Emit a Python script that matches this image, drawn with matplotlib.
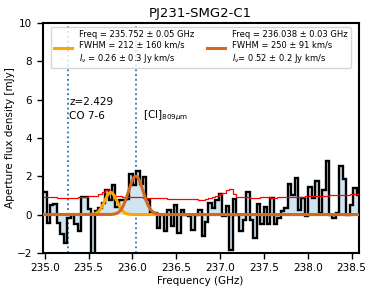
import numpy as np
import matplotlib
matplotlib.use("Agg")
import matplotlib.pyplot as plt

# ---- data ----
freq_start = 234.98      # GHz, left edge of first channel
chan_width = 0.0393      # GHz per channel

flux = [1.15, -0.46, 0.48, 0.55, -0.46, -1.0, -1.5, -0.2, 0.0, -0.5,
        -0.85, 0.9, 0.9, 0.3, -2.6, 0.2, 0.35, 0.6, 1.3, 0.75,
        1.55, 0.4, 0.75, 0.75, 0.8, 2.1, 1.55, 2.25, 1.6, 1.95,
        0.75, 0.1, 0.1, -0.7, 0.0, -0.85, 0.25, -0.6, 0.5, -0.95,
        0.25, 0.0, -0.1, -0.8, 0.0, 0.26, -1.1, -0.4, 0.6, 0.35,
        0.78, 1.08, -0.1, 0.45, -1.85, 0.8, 0.0, -0.85, -0.3, 1.2,
        -0.3, -1.2, 0.55, -0.5, 0.4, -0.5, 0.85, -0.5, -0.2, 0.2,
        0.35, 1.6, 1.0, 1.9, 0.26, 0.87, -0.1, 1.43, 0.87, 1.74,
        0.1, 1.3, 2.78, 0.0, -0.17, 0.1, 2.52, 1.83, 0.0, 0.5,
        1.39, 1.04]

rms = [0.92, 0.9, 0.9, 0.89, 0.88, 0.88, 0.87, 0.87, 0.87, 0.88,
       0.9, 0.92, 0.93, 0.95, 0.95, 0.97, 1.05, 1.2, 1.3, 1.25,
       1.0, 0.95, 0.95, 0.93, 0.92, 0.92, 0.9, 0.9, 0.9, 0.88,
       0.88, 0.86, 0.85, 0.85, 0.84, 0.84, 0.83, 0.83, 0.83, 0.82,
       0.82, 0.82, 0.81, 0.8, 0.8, 0.78, 0.78, 0.8, 0.85, 0.9,
       0.95, 1.05, 1.1, 1.3, 1.35, 1.05, 0.92, 0.9, 0.9, 0.89,
       0.88, 0.88, 0.88, 0.9, 0.9, 0.89, 0.88, 0.88, 0.9, 0.9,
       0.9, 0.92, 0.92, 0.93, 0.93, 0.94, 0.95, 0.95, 0.96, 0.96,
       0.97, 0.98, 0.98, 1.0, 1.0, 1.01, 1.02, 1.03, 1.04, 1.05,
       1.06, 1.08]

# Gaussian fit parameters: centre (GHz), FWHM (GHz), peak (mJy)
g1_center, g1_fwhm, g1_peak = 235.752, 0.1666, 1.15
g2_center, g2_fwhm, g2_peak = 236.038, 0.1967, 2.0

line_freqs = [235.26, 236.04]
xticks = [235.0, 235.5, 236.0, 236.5, 237.0, 237.5, 238.0, 238.5]
yticks = [-2, 0, 2, 4, 6, 8, 10]

label1 = "Freq = 235.752 ± 0.05 GHz\nFWHM = 212 ± 160 km/s\n$I_\\nu$ = 0.26 ± 0.3 Jy km/s"
label2 = "Freq = 236.038 ± 0.03 GHz\nFWHM = 250 ± 91 km/s\n$I_\\nu$= 0.52 ± 0.2 Jy km/s"

# ---- plot ----
fig = plt.figure(figsize=(3.74, 2.89), dpi=100)
ax = fig.add_axes([0.114, 0.125, 0.845, 0.796])

n = len(flux)
edges = freq_start + chan_width * np.arange(n + 1)

ax.stairs(flux, edges, baseline=0, fill=True, color="#cfe6f2", zorder=1)
ax.stairs(flux, edges, baseline=None, color="black", lw=1.7, zorder=2)
ax.stairs(rms, edges, baseline=None, color="red", lw=0.9, zorder=3)

xx = np.linspace(234.9, 238.7, 2000)
s1 = g1_fwhm / 2.3548
s2 = g2_fwhm / 2.3548
ax.plot(xx, g1_peak * np.exp(-0.5 * ((xx - g1_center) / s1) ** 2),
        color="orange", lw=2.2, label=label1, zorder=4)
ax.plot(xx, g2_peak * np.exp(-0.5 * ((xx - g2_center) / s2) ** 2),
        color="#d2691e", lw=2.2, label=label2, zorder=5)

for lf in line_freqs:
    ax.axvline(lf, color="#1f77b4", ls=":", lw=1.3, zorder=0)

ax.text(235.28, 5.85, "z=2.429", fontsize=7.5, va="center", ha="left")
ax.text(235.28, 5.15, "CO 7-6", fontsize=7.5, va="center", ha="left")
ax.text(236.12, 5.15, "[CI]$_{809\\mu\\mathrm{m}}$", fontsize=7.5, va="center", ha="left")

ax.set_xlim(234.975, 238.58)
ax.set_ylim(-2, 10)
ax.set_xticks(xticks)
ax.set_yticks(yticks)
ax.tick_params(labelsize=7.5, width=1, length=4)
for sp in ax.spines.values():
    sp.set_linewidth(1.5)

ax.set_xlabel("Frequency (GHz)", fontsize=7.5, labelpad=2)
ax.set_ylabel("Aperture flux density [mJy]", fontsize=7.5, labelpad=1)
ax.set_title("PJ231-SMG2-C1", fontsize=9.5, pad=4)

ax.legend(loc="upper center", ncol=2, fontsize=6, frameon=True,
          bbox_to_anchor=(0.5, 1.0), handlelength=2.2, columnspacing=1.5,
          labelspacing=0.3, borderpad=0.4, fancybox=True)

fig.savefig("out.png", dpi=100)
